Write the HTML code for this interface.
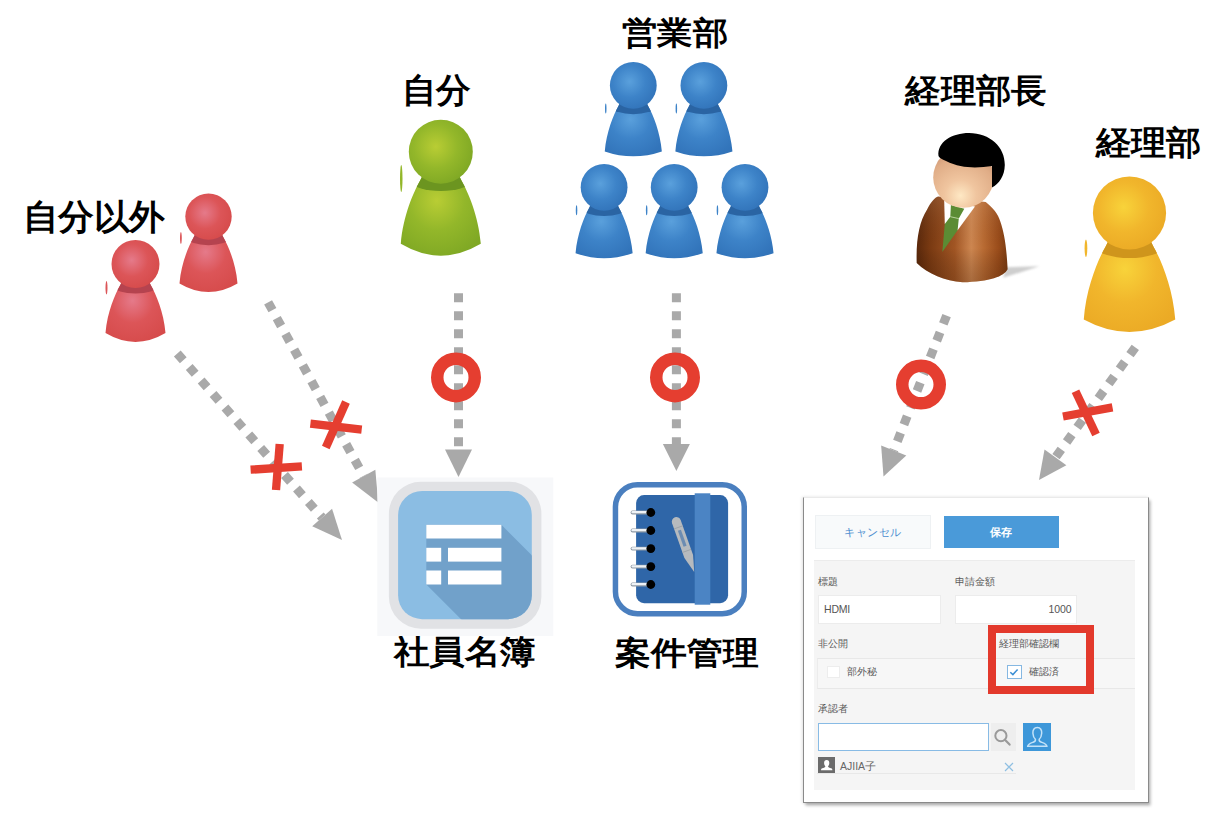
<!DOCTYPE html>
<html><head><meta charset="utf-8"><style>
html,body{margin:0;padding:0;background:#fff;width:1214px;height:819px;overflow:hidden;position:relative}
body{font-family:"Liberation Sans",sans-serif}
.a{position:absolute;box-sizing:border-box;white-space:nowrap}
.lbl{font-size:10px;color:#5a5a5a;line-height:12px}
</style></head>
<body>
<svg width="1214" height="819" viewBox="0 0 1214 819" font-family="'Liberation Sans', sans-serif" style="position:absolute;left:0;top:0">
<defs>
<radialGradient id="gh_red" cx="0.42" cy="0.42" r="0.62"><stop offset="0" stop-color="#e57a8a"/><stop offset="0.55" stop-color="#dc5558"/><stop offset="1" stop-color="#d64b4b"/></radialGradient>
<radialGradient id="gb_red" cx="0.45" cy="0.35" r="0.7"><stop offset="0" stop-color="#e57a8a"/><stop offset="0.5" stop-color="#dc5558"/><stop offset="1" stop-color="#d64b4b"/></radialGradient>
<radialGradient id="gh_green" cx="0.42" cy="0.42" r="0.62"><stop offset="0" stop-color="#b9cd34"/><stop offset="0.55" stop-color="#93b72a"/><stop offset="1" stop-color="#7fa824"/></radialGradient>
<radialGradient id="gb_green" cx="0.45" cy="0.35" r="0.7"><stop offset="0" stop-color="#b9cd34"/><stop offset="0.5" stop-color="#93b72a"/><stop offset="1" stop-color="#7fa824"/></radialGradient>
<radialGradient id="gh_blue" cx="0.42" cy="0.42" r="0.62"><stop offset="0" stop-color="#5aa0dc"/><stop offset="0.55" stop-color="#3d83c8"/><stop offset="1" stop-color="#3274ba"/></radialGradient>
<radialGradient id="gb_blue" cx="0.45" cy="0.35" r="0.7"><stop offset="0" stop-color="#5aa0dc"/><stop offset="0.5" stop-color="#3d83c8"/><stop offset="1" stop-color="#3274ba"/></radialGradient>
<radialGradient id="gh_yellow" cx="0.42" cy="0.42" r="0.62"><stop offset="0" stop-color="#f8d33a"/><stop offset="0.55" stop-color="#f1b62c"/><stop offset="1" stop-color="#ebaa25"/></radialGradient>
<radialGradient id="gb_yellow" cx="0.45" cy="0.35" r="0.7"><stop offset="0" stop-color="#f8d33a"/><stop offset="0.5" stop-color="#f1b62c"/><stop offset="1" stop-color="#ebaa25"/></radialGradient>
<clipPath id="pc1"><path d="M196.90,230.52 L193.54,237.48 C188.90,245.60 181.12,263.00 179.50,283.42 Q208.50,300.58 237.50,283.42 C235.88,263.00 228.10,245.60 223.46,237.48 L220.10,230.52 Z"/></clipPath>
<clipPath id="pc2"><path d="M123.50,278.40 L120.02,285.60 C115.22,294.00 107.18,312.00 105.50,333.12 Q135.50,350.88 165.50,333.12 C163.82,312.00 155.78,294.00 150.98,285.60 L147.50,278.40 Z"/></clipPath>
<clipPath id="pc3"><path d="M424.80,170.90 L420.16,180.50 C413.76,191.70 403.04,215.70 400.80,243.86 Q440.80,267.54 480.80,243.86 C478.56,215.70 467.84,191.70 461.44,180.50 L456.80,170.90 Z"/></clipPath>
<clipPath id="pc4"><path d="M621.60,99.44 L618.21,106.46 C613.53,114.65 606.39,132.20 604.75,151.39 Q633.30,161.22 661.85,151.39 C660.21,132.20 653.07,114.65 648.39,106.46 L645.00,99.44 Z"/></clipPath>
<clipPath id="pc5"><path d="M692.20,99.44 L688.81,106.46 C684.13,114.65 676.99,132.20 675.35,151.39 Q703.90,161.22 732.45,151.39 C730.81,132.20 723.67,114.65 718.99,106.46 L715.60,99.44 Z"/></clipPath>
<clipPath id="pc6"><path d="M592.40,201.34 L589.01,208.36 C584.33,216.55 577.19,234.10 575.55,253.29 Q604.10,263.12 632.65,253.29 C631.01,234.10 623.87,216.55 619.19,208.36 L615.80,201.34 Z"/></clipPath>
<clipPath id="pc7"><path d="M662.50,201.34 L659.11,208.36 C654.43,216.55 647.29,234.10 645.65,253.29 Q674.20,263.12 702.75,253.29 C701.11,234.10 693.97,216.55 689.29,208.36 L685.90,201.34 Z"/></clipPath>
<clipPath id="pc8"><path d="M733.30,201.34 L729.91,208.36 C725.23,216.55 718.09,234.10 716.45,253.29 Q745.00,263.12 773.55,253.29 C771.91,234.10 764.77,216.55 760.09,208.36 L756.70,201.34 Z"/></clipPath>
<clipPath id="pc9"><path d="M1111.20,234.96 L1105.89,245.94 C1098.57,258.75 1086.31,286.20 1083.75,319.51 Q1129.50,344.39 1175.25,319.51 C1172.69,286.20 1160.43,258.75 1153.11,245.94 L1147.80,234.96 Z"/></clipPath>
<linearGradient id="mbody" x1="0" y1="0" x2="1" y2="0"><stop offset="0" stop-color="#5a280b"/><stop offset="0.15" stop-color="#7a3a12"/><stop offset="0.42" stop-color="#a25624"/><stop offset="0.6" stop-color="#cd8650"/><stop offset="0.74" stop-color="#b86a32"/><stop offset="0.9" stop-color="#9a4c1a"/><stop offset="1" stop-color="#7c3c12"/></linearGradient>
<linearGradient id="mbodyv" x1="0" y1="0" x2="0" y2="1"><stop offset="0" stop-color="#fff" stop-opacity="0.08"/><stop offset="0.6" stop-color="#000" stop-opacity="0"/><stop offset="1" stop-color="#3a1a05" stop-opacity="0.25"/></linearGradient>
<radialGradient id="mface" cx="0.45" cy="0.8" r="0.75"><stop offset="0" stop-color="#fee8c4"/><stop offset="0.35" stop-color="#f0c59f"/><stop offset="0.8" stop-color="#e0ad87"/><stop offset="1" stop-color="#cf9876"/></radialGradient>
<filter id="mblur" x="-50%" y="-100%" width="200%" height="300%"><feGaussianBlur stdDeviation="0.8"/></filter>
<clipPath id="ic1"><rect x="398.1" y="491" width="133.7" height="128.2" rx="24"/></clipPath>
</defs>
<text x="0" y="0" font-size="36" font-weight="bold" transform="translate(22.99,228.70) scale(0.9786,0.9600)">自分以外</text>
<text x="0" y="0" font-size="36" font-weight="bold" transform="translate(402.14,101.76) scale(0.9642,0.9486)">自分</text>
<text x="0" y="0" font-size="36" font-weight="bold" transform="translate(621.61,43.52) scale(0.9895,0.8973)">営業部</text>
<text x="0" y="0" font-size="36" font-weight="bold" transform="translate(905.48,102.33) scale(0.9792,0.9139)">経理部長</text>
<text x="0" y="0" font-size="36" font-weight="bold" transform="translate(1096.28,154.12) scale(0.9794,0.9167)">経理部</text>
<text x="0" y="0" font-size="36" font-weight="bold" transform="translate(394.20,663.10) scale(0.9860,0.9167)">社員名簿</text>
<text x="0" y="0" font-size="36" font-weight="bold" transform="translate(615.30,663.60) scale(0.9881,0.8838)">案件管理</text>
<path d="M196.90,230.52 L193.54,237.48 C188.90,245.60 181.12,263.00 179.50,283.42 Q208.50,300.58 237.50,283.42 C235.88,263.00 228.10,245.60 223.46,237.48 L220.10,230.52 Z" fill="url(#gb_red)"/>
<ellipse cx="208.50" cy="238.18" rx="20.88" ry="6.96" fill="#b5434f" clip-path="url(#pc1)"/>
<circle cx="208.50" cy="216.60" r="23.20" fill="url(#gh_red)"/>
<ellipse cx="180.90" cy="238.00" rx="0.90" ry="6.00" fill="#dc5558"/>
<path d="M123.50,278.40 L120.02,285.60 C115.22,294.00 107.18,312.00 105.50,333.12 Q135.50,350.88 165.50,333.12 C163.82,312.00 155.78,294.00 150.98,285.60 L147.50,278.40 Z" fill="url(#gb_red)"/>
<ellipse cx="135.50" cy="286.32" rx="21.60" ry="7.20" fill="#b5434f" clip-path="url(#pc2)"/>
<circle cx="135.50" cy="264.00" r="24.00" fill="url(#gh_red)"/>
<ellipse cx="106.50" cy="287.75" rx="1.00" ry="6.75" fill="#dc5558"/>
<path d="M424.80,170.90 L420.16,180.50 C413.76,191.70 403.04,215.70 400.80,243.86 Q440.80,267.54 480.80,243.86 C478.56,215.70 467.84,191.70 461.44,180.50 L456.80,170.90 Z" fill="url(#gb_green)"/>
<ellipse cx="440.80" cy="181.46" rx="28.80" ry="9.60" fill="#6c9520" clip-path="url(#pc3)"/>
<circle cx="440.80" cy="151.70" r="32.00" fill="url(#gh_green)"/>
<ellipse cx="401.25" cy="178.50" rx="1.25" ry="13.50" fill="#93b72a"/>
<path d="M621.60,99.44 L618.21,106.46 C613.53,114.65 606.39,132.20 604.75,151.39 Q633.30,161.22 661.85,151.39 C660.21,132.20 653.07,114.65 648.39,106.46 L645.00,99.44 Z" fill="url(#gb_blue)"/>
<ellipse cx="633.30" cy="107.16" rx="21.06" ry="7.02" fill="#2a64a3" clip-path="url(#pc4)"/>
<circle cx="633.30" cy="85.40" r="23.40" fill="url(#gh_blue)"/>
<ellipse cx="605.75" cy="108.40" rx="0.75" ry="5.00" fill="#3d83c8"/>
<path d="M692.20,99.44 L688.81,106.46 C684.13,114.65 676.99,132.20 675.35,151.39 Q703.90,161.22 732.45,151.39 C730.81,132.20 723.67,114.65 718.99,106.46 L715.60,99.44 Z" fill="url(#gb_blue)"/>
<ellipse cx="703.90" cy="107.16" rx="21.06" ry="7.02" fill="#2a64a3" clip-path="url(#pc5)"/>
<circle cx="703.90" cy="85.40" r="23.40" fill="url(#gh_blue)"/>
<ellipse cx="676.35" cy="108.40" rx="0.75" ry="5.00" fill="#3d83c8"/>
<path d="M592.40,201.34 L589.01,208.36 C584.33,216.55 577.19,234.10 575.55,253.29 Q604.10,263.12 632.65,253.29 C631.01,234.10 623.87,216.55 619.19,208.36 L615.80,201.34 Z" fill="url(#gb_blue)"/>
<ellipse cx="604.10" cy="209.06" rx="21.06" ry="7.02" fill="#2a64a3" clip-path="url(#pc6)"/>
<circle cx="604.10" cy="187.30" r="23.40" fill="url(#gh_blue)"/>
<ellipse cx="576.55" cy="210.30" rx="0.75" ry="5.00" fill="#3d83c8"/>
<path d="M662.50,201.34 L659.11,208.36 C654.43,216.55 647.29,234.10 645.65,253.29 Q674.20,263.12 702.75,253.29 C701.11,234.10 693.97,216.55 689.29,208.36 L685.90,201.34 Z" fill="url(#gb_blue)"/>
<ellipse cx="674.20" cy="209.06" rx="21.06" ry="7.02" fill="#2a64a3" clip-path="url(#pc7)"/>
<circle cx="674.20" cy="187.30" r="23.40" fill="url(#gh_blue)"/>
<ellipse cx="646.65" cy="210.30" rx="0.75" ry="5.00" fill="#3d83c8"/>
<path d="M733.30,201.34 L729.91,208.36 C725.23,216.55 718.09,234.10 716.45,253.29 Q745.00,263.12 773.55,253.29 C771.91,234.10 764.77,216.55 760.09,208.36 L756.70,201.34 Z" fill="url(#gb_blue)"/>
<ellipse cx="745.00" cy="209.06" rx="21.06" ry="7.02" fill="#2a64a3" clip-path="url(#pc8)"/>
<circle cx="745.00" cy="187.30" r="23.40" fill="url(#gh_blue)"/>
<ellipse cx="717.45" cy="210.30" rx="0.75" ry="5.00" fill="#3d83c8"/>
<path d="M1111.20,234.96 L1105.89,245.94 C1098.57,258.75 1086.31,286.20 1083.75,319.51 Q1129.50,344.39 1175.25,319.51 C1172.69,286.20 1160.43,258.75 1153.11,245.94 L1147.80,234.96 Z" fill="url(#gb_yellow)"/>
<ellipse cx="1129.50" cy="247.04" rx="32.94" ry="10.98" fill="#cf951c" clip-path="url(#pc9)"/>
<circle cx="1129.50" cy="213.00" r="36.60" fill="url(#gh_yellow)"/>
<ellipse cx="1085.95" cy="248.25" rx="1.35" ry="8.75" fill="#f1b62c"/>
<path d="M1006.5,267.3 L1039.4,266.3 L1003,277.8 Z" fill="#cecece" filter="url(#mblur)"/>
<path d="M916.7,263.1 C916,240 919,222 927.1,209.4 C931,202 935,197.5 938.1,196.6 L985.7,202.1 C993,208 998,214 1000.3,221.6 C1004,232 1006.5,246 1007.6,269.2 C1004,276.5 990,281.5 962.5,282.3 C945,281 928,274 916.7,263.1 Z" fill="url(#mbody)"/>
<path d="M916.7,263.1 C916,240 919,222 927.1,209.4 C931,202 935,197.5 938.1,196.6 L985.7,202.1 C993,208 998,214 1000.3,221.6 C1004,232 1006.5,246 1007.6,269.2 C1004,276.5 990,281.5 962.5,282.3 C945,281 928,274 916.7,263.1 Z" fill="url(#mbodyv)"/>
<path d="M944.2,200.5 L975,206.5 L957.6,230.2 L944.8,224 Z" fill="#ffffff"/>
<path d="M950.9,205.1 L964.3,208.8 L958.8,218.6 L957.6,230.2 L942.3,252.1 L944.8,224 L950.3,216.7 Z" fill="#5b8c34"/>
<line x1="950.3" y1="216.7" x2="958.8" y2="218.6" stroke="#cfe3b5" stroke-width="0.8"/>
<circle cx="963.5" cy="177.5" r="30.3" fill="url(#mface)"/>
<path d="M938.5,156 C937,142 952,133 969,133 C990,133 1005,147 1004.8,165 C1004.6,176 999,184 992,187.6 L992,166 C978,168 962,169 946,161 C942,159 939,158 938.5,156 Z" fill="#000"/>
<line x1="177.30" y1="353.50" x2="322.14" y2="517.51" stroke="#a9a9a9" stroke-width="9" stroke-dasharray="9 9" stroke-dashoffset="0"/>
<polygon points="342.00,540.00 312.21,526.28 332.07,508.74" fill="#a9a9a9"/>
<line x1="268.10" y1="302.30" x2="363.74" y2="476.21" stroke="#a9a9a9" stroke-width="9" stroke-dasharray="9 9" stroke-dashoffset="0"/>
<polygon points="378.20,502.50 352.13,482.60 375.35,469.83" fill="#a9a9a9"/>
<line x1="250.6" y1="469.7" x2="301.9" y2="466.3" stroke="#e53e30" stroke-width="8.3"/>
<line x1="279.7" y1="444" x2="276" y2="490" stroke="#e53e30" stroke-width="8.3"/>
<line x1="310.4" y1="423.6" x2="361.7" y2="429.7" stroke="#e53e30" stroke-width="8.3"/>
<line x1="346" y1="402" x2="325.8" y2="447.5" stroke="#e53e30" stroke-width="8.3"/>
<line x1="458.50" y1="293.30" x2="458.50" y2="449.50" stroke="#a9a9a9" stroke-width="9" stroke-dasharray="9 9" stroke-dashoffset="0"/>
<polygon points="458.50,477.00 445.00,449.50 472.00,449.50" fill="#a9a9a9"/>
<circle cx="456" cy="377.4" r="18.75" fill="none" stroke="#e53e30" stroke-width="12.5"/>
<line x1="676.40" y1="293.30" x2="676.40" y2="444.00" stroke="#a9a9a9" stroke-width="9" stroke-dasharray="9 9" stroke-dashoffset="0"/>
<polygon points="676.40,471.00 662.90,444.00 689.90,444.00" fill="#a9a9a9"/>
<circle cx="675" cy="377.4" r="18.75" fill="none" stroke="#e53e30" stroke-width="12.5"/>
<line x1="946.60" y1="315.60" x2="893.72" y2="450.53" stroke="#a9a9a9" stroke-width="9" stroke-dasharray="9 9" stroke-dashoffset="0"/>
<polygon points="883.50,476.60 881.15,445.60 906.29,455.46" fill="#a9a9a9"/>
<circle cx="921" cy="384.6" r="18.75" fill="none" stroke="#e53e30" stroke-width="12.5"/>
<line x1="1135.30" y1="347.30" x2="1055.45" y2="457.34" stroke="#a9a9a9" stroke-width="9" stroke-dasharray="9 9" stroke-dashoffset="0"/>
<polygon points="1039.00,480.00 1044.52,449.41 1066.37,465.27" fill="#a9a9a9"/>
<line x1="1063" y1="416.5" x2="1112.5" y2="407.4" stroke="#e53e30" stroke-width="8.3"/>
<line x1="1075.5" y1="391.3" x2="1096" y2="434.5" stroke="#e53e30" stroke-width="8.3"/>
<rect x="377.3" y="477.5" width="176" height="158.5" fill="#f7f8fa"/>
<rect x="388.9" y="481.7" width="152.5" height="147" rx="32" fill="#e1e2e5"/>
<rect x="398.1" y="491" width="133.7" height="128.2" rx="24" fill="#8bbde3"/>
<path d="M426.3,524.8 L501.4,524.8 L701.4,724.8 L626.3,784.5 L426.3,584.5 Z" fill="#71a1ca" clip-path="url(#ic1)"/>
<rect x="426.3" y="524.8" width="75.1" height="13.7" fill="#fff"/>
<rect x="426.3" y="547.8" width="14.9" height="13.8" fill="#fff"/>
<rect x="448" y="547.8" width="53.4" height="13.8" fill="#fff"/>
<rect x="426.3" y="570.5" width="14.9" height="14" fill="#fff"/>
<rect x="448" y="570.5" width="53.4" height="14" fill="#fff"/>
<rect x="615.45" y="484.75" width="128.8" height="128.9" rx="22" fill="#fff" stroke="#4a7fbf" stroke-width="5.5"/>
<rect x="636.1" y="495.1" width="92" height="108.1" rx="8" fill="#2f66a8"/>
<rect x="694.7" y="493.3" width="15.6" height="111.4" fill="#4b84c4"/>
<line x1="632.5" y1="512.5" x2="648" y2="512.5" stroke="#8f9aa5" stroke-width="3.8" stroke-linecap="round"/>
<line x1="632.5" y1="512.2" x2="648" y2="512.2" stroke="#eef2f6" stroke-width="2.2" stroke-linecap="round"/>
<circle cx="650.8" cy="512.5" r="4.4" fill="#000"/>
<line x1="632.5" y1="530.5" x2="648" y2="530.5" stroke="#8f9aa5" stroke-width="3.8" stroke-linecap="round"/>
<line x1="632.5" y1="530.2" x2="648" y2="530.2" stroke="#eef2f6" stroke-width="2.2" stroke-linecap="round"/>
<circle cx="650.8" cy="530.5" r="4.4" fill="#000"/>
<line x1="632.5" y1="548.6" x2="648" y2="548.6" stroke="#8f9aa5" stroke-width="3.8" stroke-linecap="round"/>
<line x1="632.5" y1="548.3000000000001" x2="648" y2="548.3000000000001" stroke="#eef2f6" stroke-width="2.2" stroke-linecap="round"/>
<circle cx="650.8" cy="548.6" r="4.4" fill="#000"/>
<line x1="632.5" y1="566.6" x2="648" y2="566.6" stroke="#8f9aa5" stroke-width="3.8" stroke-linecap="round"/>
<line x1="632.5" y1="566.3000000000001" x2="648" y2="566.3000000000001" stroke="#eef2f6" stroke-width="2.2" stroke-linecap="round"/>
<circle cx="650.8" cy="566.6" r="4.4" fill="#000"/>
<line x1="632.5" y1="584.5" x2="648" y2="584.5" stroke="#8f9aa5" stroke-width="3.8" stroke-linecap="round"/>
<line x1="632.5" y1="584.2" x2="648" y2="584.2" stroke="#eef2f6" stroke-width="2.2" stroke-linecap="round"/>
<circle cx="650.8" cy="584.5" r="4.4" fill="#000"/>
<g transform="translate(676.4,521.7) rotate(-19.49)"><path d="M-4.6,0 A4.6,4.6 0 0 1 4.6,0 L4.6,37 L0,53.4 L-4.6,37 Z" fill="#b6babe"/><rect x="-1.6" y="9" width="3.2" height="17" fill="#2f66a8" opacity="0.55"/><line x1="-4.6" y1="6" x2="4.6" y2="6" stroke="#9aa0a6" stroke-width="0.8"/><line x1="-4.6" y1="31" x2="4.6" y2="31" stroke="#9aa0a6" stroke-width="0.8"/></g>
</svg>
<div class="a" style="left:802.5px;top:496.5px;width:346.00px;height:306.50px;background:#fff;border-left:1px solid #8a8a8a;border-right:1.2px solid #8a8a8a;border-bottom:1.5px solid #8a8a8a;border-top:1px solid #eaeaea;box-shadow:1.5px 2.5px 3px rgba(0,0,0,0.3),-1px 0 3px rgba(0,0,0,0.12)"></div>
<div class="a" style="left:815px;top:515px;width:116.00px;height:34.00px;background:#f8fafb;border:1px solid #eef1f3;color:#4f8fd0;font-size:11px;line-height:32px;text-align:center;letter-spacing:0.6px">キャンセル</div>
<div class="a" style="left:943.6px;top:515.6px;width:115.30px;height:32.30px;background:#4a9ad9;color:#fff;font-size:11px;font-weight:bold;line-height:32px;text-align:center">保存</div>
<div class="a" style="left:814px;top:560px;width:321.00px;height:229.60px;background:#f5f5f5;border-top:1px solid #ececec"></div>
<div class="a lbl" style="left:817.6px;top:576.30px;">標題</div>
<div class="a lbl" style="left:955.1px;top:576.30px;">申請金額</div>
<div class="a" style="left:818px;top:595.3px;width:123.20px;height:28.50px;background:#fff;border:1px solid #ececec;font-size:10.5px;color:#555;line-height:27px;padding-left:5px;letter-spacing:-0.2px">HDMI</div>
<div class="a" style="left:954.5px;top:595.4px;width:122.90px;height:28.20px;background:#fff;border:1px solid #ececec;font-size:10.5px;color:#555;line-height:27px;text-align:right;padding-right:5px;letter-spacing:-0.1px">1000</div>
<div class="a lbl" style="left:817.7px;top:638.30px;">非公開</div>
<div class="a" style="left:817.3px;top:657.5px;width:317.70px;height:31.50px;background:#f7f7f7;border-top:1px solid #e8e8e8;border-bottom:1px solid #e8e8e8;border-left:1px solid #ececec"></div>
<div class="a" style="left:827.2px;top:665.6px;width:12.50px;height:12.90px;background:#fff;border:1px solid #ededed"></div>
<div class="a lbl" style="left:847.4px;top:665.70px;">部外秘</div>
<div class="a" style="left:988px;top:625px;width:105.70px;height:68.80px;border:8.6px solid #e3392c"></div>
<div class="a lbl" style="left:999px;top:638.40px;">経理部確認欄</div>
<div class="a" style="left:1007px;top:664.5px;width:15.00px;height:14.50px;background:#fff;border:1.5px solid #86b8e2"><svg width="12" height="12" viewBox="0 0 12 12" style="position:absolute;left:0;top:0"><path d="M2.3,6.2 L4.9,8.6 L9.6,3.4" fill="none" stroke="#3a8ed4" stroke-width="1.5"/></svg></div>
<div class="a lbl" style="left:1028.7px;top:665.50px;">確認済</div>
<div class="a lbl" style="left:817.5px;top:703.00px;">承認者</div>
<div class="a" style="left:817.5px;top:722.5px;width:171.10px;height:28.50px;background:#fff;border:1.3px solid #88bbe5"></div>
<div class="a" style="left:991px;top:722.5px;width:25.30px;height:28.20px;background:#eeeeee"><svg width="25" height="28" style="position:absolute;left:0;top:0"><circle cx="9.9" cy="12.7" r="5.6" fill="none" stroke="#9a9a9a" stroke-width="2"/><line x1="13.9" y1="16.8" x2="18.6" y2="21.6" stroke="#9a9a9a" stroke-width="2.2" stroke-linecap="round"/></svg></div>
<div class="a" style="left:1022.7px;top:722.5px;width:28.20px;height:28.60px;background:#3d97d9"><svg width="28" height="29" style="position:absolute;left:0;top:0"><path d="M14.3,4.6 C11,4.6 9.7,7.2 9.9,10.2 C10.1,13.2 11.4,15.4 12.4,16.3 C12.6,17.4 12.2,18.4 10.6,19 C7.5,20.2 4.7,21 4.7,23.3 L23.9,23.3 C23.9,21 21.1,20.2 18,19 C16.4,18.4 16,17.4 16.2,16.3 C17.2,15.4 18.5,13.2 18.7,10.2 C18.9,7.2 17.6,4.6 14.3,4.6 Z" fill="none" stroke="#c3e2f8" stroke-width="1.5"/></svg></div>
<div class="a" style="left:817.5px;top:757.3px;width:17.40px;height:15.70px;background:#6b6b6b"><svg width="17" height="16" style="position:absolute;left:0;top:0"><path d="M8.7,3 C6.8,3 6,4.5 6.1,6.2 C6.2,7.9 7,9 7.4,9.4 C7.4,10.2 5.8,10.6 4.2,11.3 C3.4,11.7 3,12.2 3,13.2 L14.4,13.2 C14.4,12.2 14,11.7 13.2,11.3 C11.6,10.6 10,10.2 10,9.4 C10.4,9 11.2,7.9 11.3,6.2 C11.4,4.5 10.6,3 8.7,3 Z" fill="#fff"/></svg></div>
<div class="a lbl" style="left:840px;top:759.50px;font-size:10.5px;color:#666">AJIIA子</div>
<div class="a" style="left:817px;top:773px;width:199.00px;height:1.00px;background:#e8e8e8"></div>
<svg class="a" style="left:1004px;top:761.5px" width="10" height="10"><path d="M1,1 L9,9 M9,1 L1,9" stroke="#8fbfe2" stroke-width="1.2"/></svg>
</body></html>
